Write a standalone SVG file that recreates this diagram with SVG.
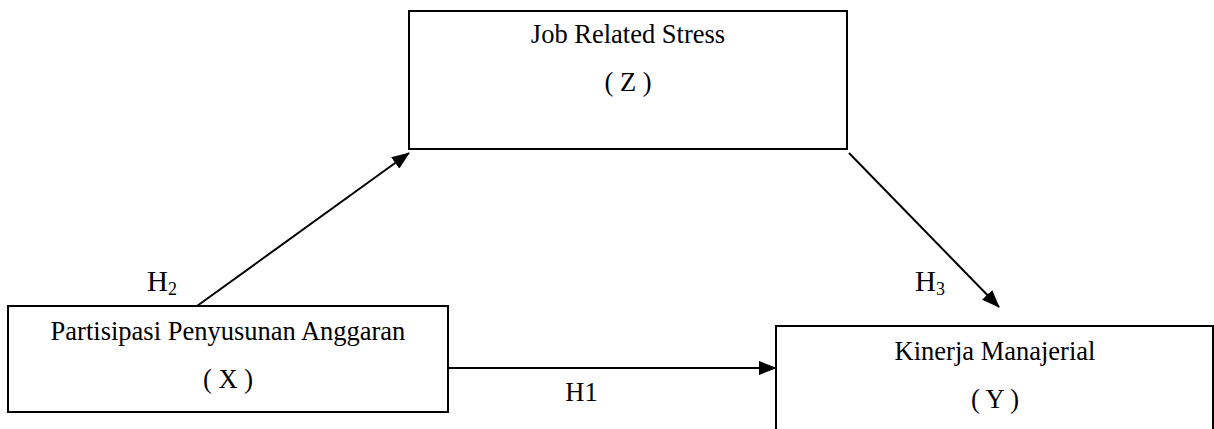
<svg xmlns="http://www.w3.org/2000/svg" width="1214" height="429" viewBox="0 0 1214 429">
<style>
.box{fill:#fff;stroke:#000;stroke-width:2}
.t{font-family:"Liberation Serif","Times New Roman",serif;font-size:26.5px;fill:#000;text-anchor:middle}
.h{font-family:"Liberation Serif","Times New Roman",serif;fill:#000}
.c{stroke:#000;stroke-width:2;fill:none;marker-end:url(#ah)}
</style>
<defs>
<marker id="ah" markerWidth="18" markerHeight="14" refX="17" refY="7" orient="auto" markerUnits="userSpaceOnUse" viewBox="0 0 18 14">
<path d="M0,0 L18,7 L0,14 Z" fill="#000"/>
</marker>
</defs>
<g id="connectors">
<line class="c" x1="197" y1="306" x2="409" y2="153"/>
<line class="c" x1="849" y1="153" x2="999" y2="307"/>
<line class="c" x1="448" y1="368" x2="776" y2="368"/>
</g>
<g id="nodeZ">
<rect class="box" x="409" y="11" width="438" height="138"/>
<text class="t" x="628" y="43">Job Related Stress</text>
<text class="t" x="628" y="91">( Z )</text>
</g>
<g id="nodeX">
<rect class="box" x="8" y="306" width="440" height="106"/>
<text class="t" x="228" y="340">Partisipasi Penyusunan Anggaran</text>
<text class="t" x="228" y="388">( X )</text>
</g>
<g id="nodeY">
<rect class="box" x="776" y="326" width="437" height="110"/>
<text class="t" x="995" y="360">Kinerja Manajerial</text>
<text class="t" x="995" y="408">( Y )</text>
</g>
<g id="labels">
<text class="h" x="147" y="291" style="font-size:29px">H<tspan dy="4" style="font-size:18px">2</tspan></text>
<text class="h" x="915" y="291" style="font-size:29px">H<tspan dy="4" style="font-size:18px">3</tspan></text>
<text class="t" x="581.5" y="401">H1</text>
</g>
</svg>
